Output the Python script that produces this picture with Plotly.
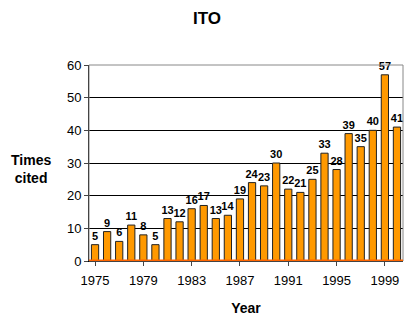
import plotly.graph_objects as go

years = list(range(1975, 2001))
cites = [5, 9, 6, 11, 8, 5, 13, 12, 16, 17, 13, 14, 19, 24, 23, 30, 22, 21, 25, 33, 28, 39, 35, 40, 57, 41]
tick_years = [1975, 1979, 1983, 1987, 1991, 1995, 1999]
y_ticks = [0, 10, 20, 30, 40, 50, 60]

fig = go.Figure()
fig.add_trace(go.Bar(
    x=years, y=cites, width=0.6,
    marker=dict(color="#FF9900", line=dict(color="#222222", width=1)),
    text=["<b>%d</b>" % v for v in cites], textposition="outside",
    textfont=dict(family="Liberation Sans, Arial", size=11, color="black"),
    constraintext="none", cliponaxis=False,
))

fig.update_layout(
    width=414, height=324,
    margin=dict(l=89, r=11, t=65, b=63),
    paper_bgcolor="white", plot_bgcolor="white",
    showlegend=False,
    uniformtext=dict(minsize=11, mode="show"),
    font=dict(family="Liberation Sans, Arial", size=13, color="black"),
    title=dict(text="<b>ITO</b>", x=0.5, xanchor="center", y=0.945, yanchor="middle",
               font=dict(size=17, color="black")),
    xaxis=dict(range=[1974.5, 2000.5], tickmode="array", tickvals=tick_years,
               ticktext=[str(t) for t in tick_years], showgrid=False,
               showline=True, linecolor="black", ticks="outside", ticklen=4,
               ticklabelstandoff=3, automargin=False,
               tickfont=dict(size=13), zeroline=False,
               title=dict(text="<b>Year</b>", font=dict(size=14), standoff=16)),
    yaxis=dict(range=[0, 60], tickmode="array", tickvals=y_ticks,
               showgrid=True, gridcolor="black", gridwidth=1,
               showline=True, linecolor="black", ticks="outside", ticklen=4,
               automargin=False,
               tickfont=dict(size=13), zeroline=False),
)

# frame (gray) on top and right
fig.add_shape(type="rect", xref="paper", yref="paper", x0=0, x1=1, y0=0, y1=1,
              line=dict(color="#888888", width=1), fillcolor="rgba(0,0,0,0)", layer="above")
# orange floor
fig.add_shape(type="line", xref="paper", yref="y", x0=0, x1=1, y0=0, y1=0,
              line=dict(color="#FF6600", width=3), layer="above")

fig.add_annotation(text="<b>Times<br>cited</b>", xref="paper", yref="paper",
                   x=-0.185, y=0.47, xanchor="center", yanchor="middle", showarrow=False,
                   font=dict(size=14), align="center")

fig.write_html("out.html")
